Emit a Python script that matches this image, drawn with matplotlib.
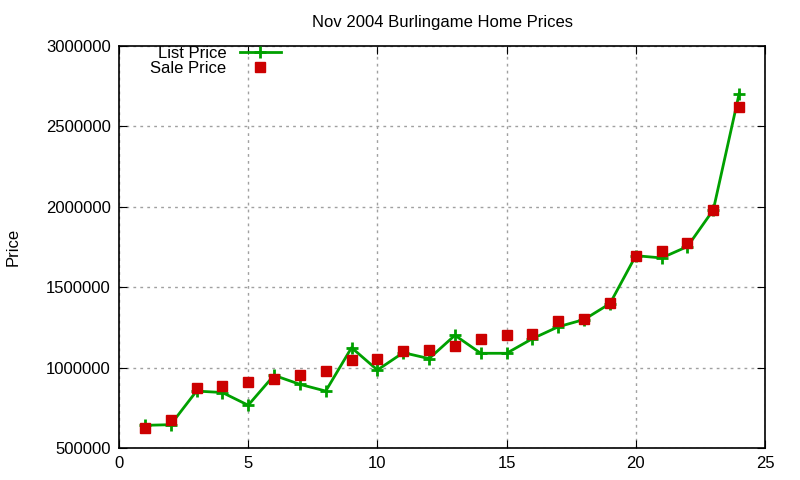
import matplotlib
matplotlib.use("Agg")
import matplotlib.pyplot as plt

x = list(range(1, 25))
list_price = [641000, 645000, 854000, 845000, 766000, 952000, 896000, 854000, 1124000, 985000,
              1093000, 1056000, 1201000, 1089000, 1089000, 1180000, 1254000, 1299000, 1398000, 1696000,
              1682000, 1753000, 1981000, 2704000]
sale_price = [624000, 672000, 872000, 886000, 909000, 930000, 954000, 979000, 1047000, 1054000,
              1104000, 1110000, 1135000, 1178000, 1202000, 1206000, 1289000, 1301000, 1400000, 1696000,
              1724000, 1776000, 1981000, 2620000]

plt.rcParams['font.family'] = ['Liberation Sans', 'DejaVu Sans']
fig = plt.figure(figsize=(8, 4.8), dpi=100)
ax = fig.add_axes([119/800, 1-448/480, (765-119)/800, (448-46)/480])
ax.plot(x, list_price, color='#00a000', lw=2, marker='+', ms=9, mew=2, label='List Price')
ax.plot(x, sale_price, ls='none', color='#cc0000', marker='s', ms=6.5, label='Sale Price')
ax.set_xlim(0, 25)
ax.set_ylim(500000, 3000000)
ax.set_xticks([0, 5, 10, 15, 20, 25])
ax.set_yticks([500000, 1000000, 1500000, 2000000, 2500000, 3000000])
ax.set_yticklabels([str(v) for v in [500000, 1000000, 1500000, 2000000, 2500000, 3000000]])
ax.grid(True, ls=(0, (2, 3)), color='#a0a0a0', lw=1)
ax.tick_params(direction='in', labelsize=12, top=True, right=True, length=6, pad=6)
ax.set_ylabel('Price', fontsize=12, labelpad=18)
ax.set_title('Nov 2004 Burlingame Home Prices', fontsize=12, pad=14)
ax.legend(loc='upper left', bbox_to_anchor=(0.03, 1.03), frameon=False, markerfirst=False,
          fontsize=12, handlelength=2.5, borderpad=0.2, labelspacing=0.0)
for s in ax.spines.values():
    s.set_linewidth(1.2)
fig.savefig('out.png')
